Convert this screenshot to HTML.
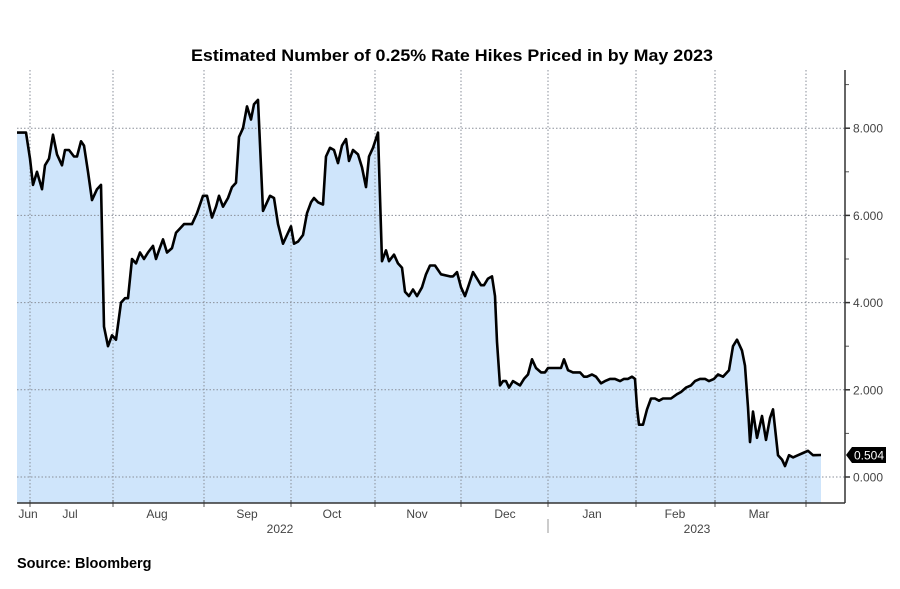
<!DOCTYPE html>
<html><head><meta charset="utf-8"><style>
body{margin:0;background:#fff;}
svg{display:block;font-family:"Liberation Sans",sans-serif;}
</style></head><body>
<svg id="chart" width="900" height="589" viewBox="0 0 900 589" xmlns="http://www.w3.org/2000/svg">
<text x="452" y="61" text-anchor="middle" font-size="17" font-weight="bold" fill="#000" textLength="522" lengthAdjust="spacingAndGlyphs">Estimated Number of 0.25% Rate Hikes Priced in by May 2023</text>
<text x="17" y="568" font-size="14.5" font-weight="bold" fill="#000">Source: Bloomberg</text>
<g id="plot"></g>
</svg>
<script>
// day offsets from start of series (calendar-ish units) and values, aligned line by line
const days=[0,6,9,13,16,20,25,28,32,36,
40,45,48,52,57,60,64,67,71,75,
80,84,87,91,95,99,104,108,111,115,
119,123,127,131,136,139,142,146,150,155,
159,163,167,175,180,186,190,195,199,202,
206,211,215,219,222,226,230,234,237,241,
246,250,253,257,261,266,270,274,277,281,
286,290,294,297,301,306,309,313,317,321,
325,329,332,336,341,345,349,352,356,361,
365,369,372,377,381,385,388,392,396,400,
405,409,413,418,424,433,436,440,444,448,
451,456,460,464,467,471,475,478,480,483,
486,489,492,496,503,507,511,515,519,524,
528,531,536,540,544,547,551,556,563,567,
570,575,579,584,588,593,598,603,607,611,
615,618,620,622,626,630,634,638,642,646,
654,660,664,669,674,678,683,688,692,697,
701,706,712,716,720,725,728,731,733,736,
740,745,749,753,756,761,765,768,772,776,
781,786,791,796,804];
const values=[7.9,7.9,7.9,7.3,6.7,7.0,6.6,7.15,7.3,7.85,
7.4,7.15,7.5,7.5,7.35,7.35,7.7,7.6,7.0,6.35,
6.6,6.7,3.45,3.0,3.25,3.15,4.0,4.1,4.1,5.0,
4.9,5.15,5.0,5.15,5.3,5.0,5.2,5.45,5.15,5.25,
5.6,5.7,5.8,5.8,6.05,6.45,6.45,5.95,6.2,6.45,
6.2,6.4,6.65,6.75,7.8,8.0,8.5,8.2,8.55,8.65,
6.1,6.3,6.45,6.4,5.8,5.35,5.55,5.75,5.35,5.4,
5.55,6.05,6.3,6.4,6.3,6.25,7.35,7.55,7.5,7.2,
7.6,7.75,7.25,7.5,7.4,7.1,6.65,7.35,7.55,7.9,
4.95,5.2,4.95,5.1,4.9,4.8,4.25,4.15,4.3,4.15,
4.35,4.65,4.85,4.85,4.65,4.6,4.6,4.7,4.35,4.15,
4.35,4.7,4.55,4.4,4.4,4.55,4.6,4.15,3.1,2.1,
2.2,2.2,2.05,2.2,2.1,2.25,2.35,2.7,2.5,2.4,
2.4,2.5,2.5,2.5,2.5,2.7,2.45,2.4,2.4,2.3,
2.3,2.35,2.3,2.15,2.2,2.25,2.25,2.2,2.25,2.25,
2.3,2.25,1.6,1.2,1.2,1.55,1.8,1.8,1.75,1.8,
1.8,1.9,1.95,2.05,2.1,2.2,2.25,2.25,2.2,2.25,
2.35,2.3,2.45,3.0,3.15,2.9,2.55,1.6,0.8,1.5,
0.9,1.4,0.85,1.35,1.55,0.5,0.4,0.25,0.5,0.45,
0.5,0.55,0.6,0.5,0.504];
const yTicks=[0,2,4,6,8];
const yTickLabels=["0.000","2.000","4.000","6.000","8.000"];
const yMinorTicks=[1,3,5,7,9];
const monthGrid=[13,96,187,274,358,444,531,619,698,789];
const monthLabels=["Jun","Jul","Aug","Sep","Oct","Nov","Dec","Jan","Feb","Mar"];
const monthLabelPos=[11,53,140,230,315,400,488,575,658,742];
const yearLabels=["2022","2023"];
const yearLabelPos=[263,680];
const lastLabel="0.504";

const X0=17,X1=821,XA=845,Y0=477,YU=43.6,TOP=70,BOT=503;
const xs=t=>X0+(X1-X0)*t/804;
const ys=v=>Y0-v*YU;
const NS="http://www.w3.org/2000/svg";
const g=document.getElementById('plot');
function mk(tag,a){const e=document.createElementNS(NS,tag);for(const k in a)e.setAttribute(k,a[k]);g.appendChild(e);return e;}
const n=Math.min(days.length,values.length);

let d='M'+xs(days[0])+','+BOT;
for(let i=0;i<n;i++){d+=' L'+xs(days[i]).toFixed(1)+','+ys(values[i]).toFixed(1);}
d+=' L'+xs(days[n-1])+','+BOT+' Z';
const area=mk('path',{d:d,fill:'#cfe5fb',stroke:'none'});



yTicks.forEach((v,i)=>{
 const l=mk('line',{x1:X0,x2:XA,y1:ys(v),y2:ys(v),stroke:'#8a8f99','stroke-width':1,'stroke-dasharray':'1.5,2'});
 
 
 const tk=mk('line',{x1:XA,x2:XA+5,y1:ys(v),y2:ys(v),stroke:'#333','stroke-width':1.5});
 
 
 const tx=mk('text',{x:XA+8,y:ys(v)+4.5,'font-size':12,fill:'#444'});
 tx.textContent=yTickLabels[i];
 
 
});
yMinorTicks.forEach(v=>{
 const tk=mk('line',{x1:XA,x2:XA+4,y1:ys(v),y2:ys(v),stroke:'#555','stroke-width':1});
 
 
});
monthGrid.forEach(t=>{
 const l=mk('line',{x1:xs(t),x2:xs(t),y1:TOP,y2:BOT,stroke:'#8a8f99','stroke-width':1,'stroke-dasharray':'1.5,2'});
 
 
 const tk=mk('line',{x1:xs(t),x2:xs(t),y1:BOT-3,y2:BOT+4,stroke:'#555','stroke-width':1});
 
 
});
monthLabels.forEach((m,i)=>{
 const tx=mk('text',{x:xs(monthLabelPos[i]),y:518,'font-size':12,fill:'#444','text-anchor':'middle'});
 tx.textContent=m;
 
 
});
yearLabels.forEach((m,i)=>{
 const tx=mk('text',{x:xs(yearLabelPos[i]),y:533,'font-size':12,fill:'#444','text-anchor':'middle'});
 tx.textContent=m;
 
 
});
const sep=mk('line',{x1:548,x2:548,y1:519,y2:533,stroke:'#999','stroke-width':1});



const ax=mk('line',{x1:X0,x2:XA,y1:BOT,y2:BOT,stroke:'#333','stroke-width':1.5});


const ay=mk('line',{x1:XA,x2:XA,y1:TOP,y2:BOT,stroke:'#333','stroke-width':1.5});



let ld='';
for(let i=0;i<n;i++){ld+=(i?' L':'M')+xs(days[i]).toFixed(1)+','+ys(values[i]).toFixed(1);}
const line=mk('path',{d:ld,fill:'none',stroke:'#000','stroke-width':2.6,'stroke-linejoin':'round'});



const lv=values[n-1],ly=ys(lv);
const box=mk('path',{d:`M${XA+1},${ly} L${XA+7},${ly-8} L${XA+41},${ly-8} L${XA+41},${ly+8} L${XA+7},${ly+8} Z`,fill:'#000'});


const bt=mk('text',{x:XA+24,y:ly+4.5,'font-size':12,fill:'#fff','text-anchor':'middle'});
bt.textContent=lastLabel;


</script>
</body></html>
